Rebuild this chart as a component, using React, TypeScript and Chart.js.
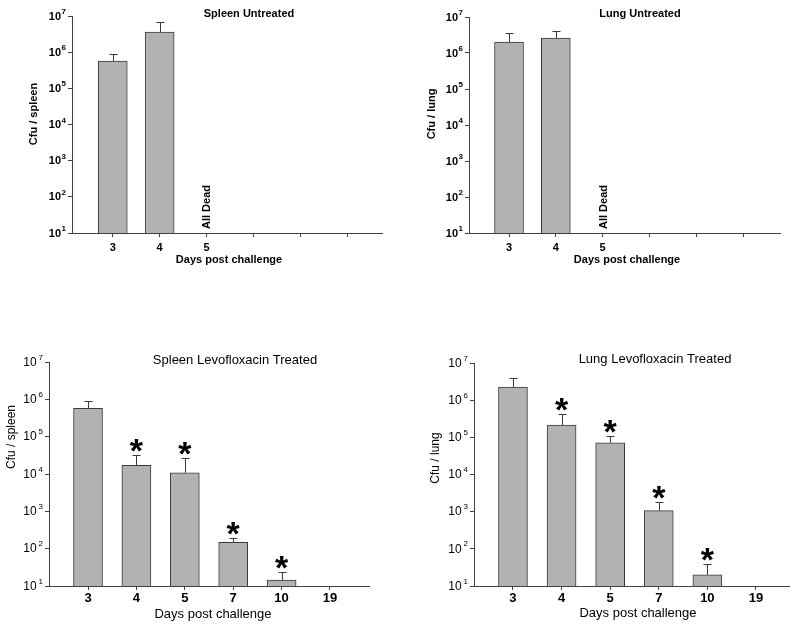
import React, { useEffect, useRef } from 'react';
import { Chart, registerables } from 'chart.js';

Chart.register(...registerables);

// ---------- data ----------
const untreatedDays = ['3', '4', '5', '', '', ''];
const treatedDays = ['3', '4', '5', '7', '10', '19'];

const spleenUntreatedCfu = [5.7e5, 3.6e6, null, null, null, null];
const spleenUntreatedErr = [8.9e5, 6.8e6, null, null, null, null];
const lungUntreatedCfu = [2.0e6, 2.6e6, null, null, null, null];
const lungUntreatedErr = [3.5e6, 4.2e6, null, null, null, null];
const untreatedNotes = ['', '', 'All Dead', '', '', ''];

const spleenTreatedCfu = [5.7e5, 1.7e4, 1.08e4, 148, 14.5, null];
const spleenTreatedErr = [9.1e5, 3.2e4, 2.7e4, 190, 23, null];
const lungTreatedCfu = [2.26e6, 2.15e5, 7.1e4, 1070, 20, null];
const lungTreatedErr = [4.0e6, 4.2e5, 1.07e5, 1800, 38, null];
const treatedSignificant = [false, true, true, true, true, false];
const noSignificance = [false, false, false, false, false, false];

const yPowers = [1, 2, 3, 4, 5, 6, 7];

// ---------- styles ----------
const FONT = "'Liberation Sans', Arial, Helvetica, sans-serif";
const BAR_FILL = '#b2b2b2';
const BAR_EDGE = '#3a3a3a';
const AXIS = '#404040';

type Panel = {
  title: string;
  yTitle: string;
  cats: string[];
  values: (number | null)[];
  errors: (number | null)[];
  notes: string[];
  stars: boolean[];
  bold: boolean;
  box: { left: number; top: number; width: number; height: number };
  pad: { left: number; top: number; right: number; bottom: number };
  xMin: number;
  xMax: number;
  titlePos: [number, number];
  yTitlePos: [number, number];
  xTitleX: number;
  xTitleY: number;
  xTickY: number;
};

const panels: Panel[] = [
  {
    title: 'Spleen Untreated', yTitle: 'Cfu / spleen', cats: untreatedDays,
    values: spleenUntreatedCfu, errors: spleenUntreatedErr, notes: untreatedNotes, stars: noSignificance,
    bold: true,
    box: { left: 0, top: 0, width: 400, height: 312 },
    pad: { left: 72, top: 16, right: 18, bottom: 79 },
    xMin: 0.13, xMax: 6.745,
    titlePos: [249, 14], yTitlePos: [34, 114], xTitleX: 229, xTitleY: 260, xTickY: 248,
  },
  {
    title: 'Lung Untreated', yTitle: 'Cfu / lung', cats: untreatedDays,
    values: lungUntreatedCfu, errors: lungUntreatedErr, notes: untreatedNotes, stars: noSignificance,
    bold: true,
    box: { left: 400, top: 0, width: 400, height: 312 },
    pad: { left: 69, top: 17, right: 20, bottom: 79 },
    xMin: 0.145, xMax: 6.79,
    titlePos: [240, 14], yTitlePos: [32, 114], xTitleX: 227, xTitleY: 260, xTickY: 248,
  },
  {
    title: 'Spleen Levofloxacin Treated', yTitle: 'Cfu / spleen', cats: treatedDays,
    values: spleenTreatedCfu, errors: spleenTreatedErr, notes: ['', '', '', '', '', ''], stars: treatedSignificant,
    bold: false,
    box: { left: 0, top: 312, width: 400, height: 313 },
    pad: { left: 49, top: 50, right: 31, bottom: 39 },
    xMin: 0.194, xMax: 6.806,
    titlePos: [235, 48], yTitlePos: [12, 125], xTitleX: 213, xTitleY: 302, xTickY: 286,
  },
  {
    title: 'Lung Levofloxacin Treated', yTitle: 'Cfu / lung', cats: treatedDays,
    values: lungTreatedCfu, errors: lungTreatedErr, notes: ['', '', '', '', '', ''], stars: treatedSignificant,
    bold: false,
    box: { left: 400, top: 312, width: 400, height: 313 },
    pad: { left: 74, top: 51, right: 11, bottom: 39 },
    xMin: 0.198, xMax: 6.68,
    titlePos: [255, 47], yTitlePos: [36, 146], xTitleX: 238, xTitleY: 301, xTickY: 286,
  },
];

function makeDecor(p: Panel) {
  return {
    id: 'decor',
    afterDraw(chart: any) {
      const ctx: CanvasRenderingContext2D = chart.ctx;
      const xs = chart.scales.x;
      const ys = chart.scales.y;
      const area = chart.chartArea;
      const w = p.bold ? 'bold ' : '';
      ctx.save();
      ctx.fillStyle = '#000';

      // error bars
      ctx.strokeStyle = BAR_EDGE;
      ctx.lineWidth = 1;
      p.values.forEach((v, i) => {
        const e = p.errors[i];
        if (v == null || e == null) return;
        const x = Math.round(xs.getPixelForValue(i + 1)) + 0.5;
        const y0 = ys.getPixelForValue(v);
        const y1 = Math.round(ys.getPixelForValue(e)) + 0.5;
        ctx.beginPath();
        ctx.moveTo(x, y0);
        ctx.lineTo(x, y1);
        ctx.moveTo(x - 4, y1);
        ctx.lineTo(x + 4, y1);
        ctx.stroke();
      });

      // significance stars
      ctx.font = `bold 34px ${FONT}`;
      ctx.textAlign = 'center';
      ctx.textBaseline = 'alphabetic';
      const m = ctx.measureText('*');
      p.stars.forEach((s, i) => {
        const e = p.errors[i];
        if (!s || e == null) return;
        const x = xs.getPixelForValue(i + 1);
        const bottom = ys.getPixelForValue(e) - 3;
        ctx.fillText('*', x, bottom - m.actualBoundingBoxDescent);
      });

      // notes (All Dead)
      ctx.font = `bold 11px ${FONT}`;
      p.notes.forEach((n, i) => {
        if (!n) return;
        const x = xs.getPixelForValue(i + 1);
        ctx.save();
        ctx.translate(x + 4, area.bottom - 4);
        ctx.rotate(-Math.PI / 2);
        ctx.textAlign = 'left';
        ctx.textBaseline = 'alphabetic';
        ctx.fillText(n, 0, 0);
        ctx.restore();
      });

      // x tick labels
      ctx.font = `bold ${p.bold ? 11 : 13}px ${FONT}`;
      ctx.textAlign = 'center';
      ctx.textBaseline = 'middle';
      p.cats.forEach((c, i) => {
        if (!c) return;
        ctx.fillText(c, xs.getPixelForValue(i + 1), p.xTickY);
      });

      // y tick labels 10^n
      const base = p.bold ? 11 : 12;
      const sup = p.bold ? 8 : 8;
      yPowers.forEach((pw) => {
        const y = ys.getPixelForValue(Math.pow(10, pw));
        const right = area.left - 6;
        ctx.font = `${w}${sup}px ${FONT}`;
        const ew = ctx.measureText(String(pw)).width;
        ctx.textAlign = 'left';
        ctx.textBaseline = 'middle';
        ctx.fillText(String(pw), right - ew, y - base * 0.38);
        ctx.font = `${w}${base}px ${FONT}`;
        ctx.textAlign = 'right';
        ctx.fillText('10', right - ew - (p.bold ? 0.5 : 2), y + 0.5);
      });

      // title
      ctx.font = `${w}${p.bold ? 11 : 13}px ${FONT}`;
      ctx.textAlign = 'center';
      ctx.textBaseline = 'middle';
      ctx.fillText(p.title, p.titlePos[0], p.titlePos[1]);

      // x title
      ctx.font = `${w}${p.bold ? 11 : 13}px ${FONT}`;
      ctx.fillText('Days post challenge', p.xTitleX, p.xTitleY);

      // y title
      ctx.font = `${w}${p.bold ? 11 : 12}px ${FONT}`;
      ctx.save();
      ctx.translate(p.yTitlePos[0], p.yTitlePos[1]);
      ctx.rotate(-Math.PI / 2);
      ctx.fillText(p.yTitle, 0, 0);
      ctx.restore();

      ctx.restore();
    },
  };
}

function PanelChart({ p }: { p: Panel }) {
  const ref = useRef<HTMLCanvasElement | null>(null);
  useEffect(() => {
    if (!ref.current) return;
    const points = p.values
      .map((v, i) => ({ x: i + 1, y: v }))
      .filter((d) => d.y != null) as { x: number; y: number }[];
    const gridCfg = {
      drawOnChartArea: false,
      drawTicks: true,
      tickLength: 4,
      color: AXIS,
      lineWidth: 1,
      offset: false,
    };
    const chart = new Chart(ref.current, {
      type: 'bar',
      data: {
        datasets: [
          {
            data: points as any,
            backgroundColor: BAR_FILL,
            borderColor: BAR_EDGE,
            borderWidth: 1,
            barThickness: 29,
          },
        ],
      },
      options: {
        animation: false,
        responsive: false,
        maintainAspectRatio: false,
        layout: { padding: p.pad },
        plugins: {
          legend: { display: false },
          tooltip: { enabled: false },
          title: { display: false },
        },
        scales: {
          x: {
            type: 'linear',
            offset: false,
            min: p.xMin,
            max: p.xMax,
            afterFit: (s: any) => { s.height = 0; },
            afterBuildTicks: (s: any) => { s.ticks = p.cats.map((_, i) => ({ value: i + 1 })); },
            ticks: { display: false },
            grid: gridCfg as any,
            border: { display: true, color: AXIS, width: 1 },
          },
          y: {
            type: 'logarithmic',
            min: 10,
            max: 1e7,
            afterFit: (s: any) => { s.width = 0; },
            afterBuildTicks: (s: any) => { s.ticks = yPowers.map((pw) => ({ value: Math.pow(10, pw) })); },
            ticks: { display: false },
            grid: gridCfg as any,
            border: { display: true, color: AXIS, width: 1 },
          },
        },
      },
      plugins: [makeDecor(p)],
    });
    return () => chart.destroy();
  }, [p]);
  return (
    <canvas
      ref={ref}
      width={p.box.width}
      height={p.box.height}
      style={{
        position: 'absolute',
        left: p.box.left,
        top: p.box.top,
        width: p.box.width,
        height: p.box.height,
      }}
    />
  );
}

export default function App() {
  return (
    <div style={{ position: 'absolute', left: 0, top: 0, width: 800, height: 625, background: '#fff' }}>
      {panels.map((p, i) => (
        <PanelChart key={i} p={p} />
      ))}
    </div>
  );
}
